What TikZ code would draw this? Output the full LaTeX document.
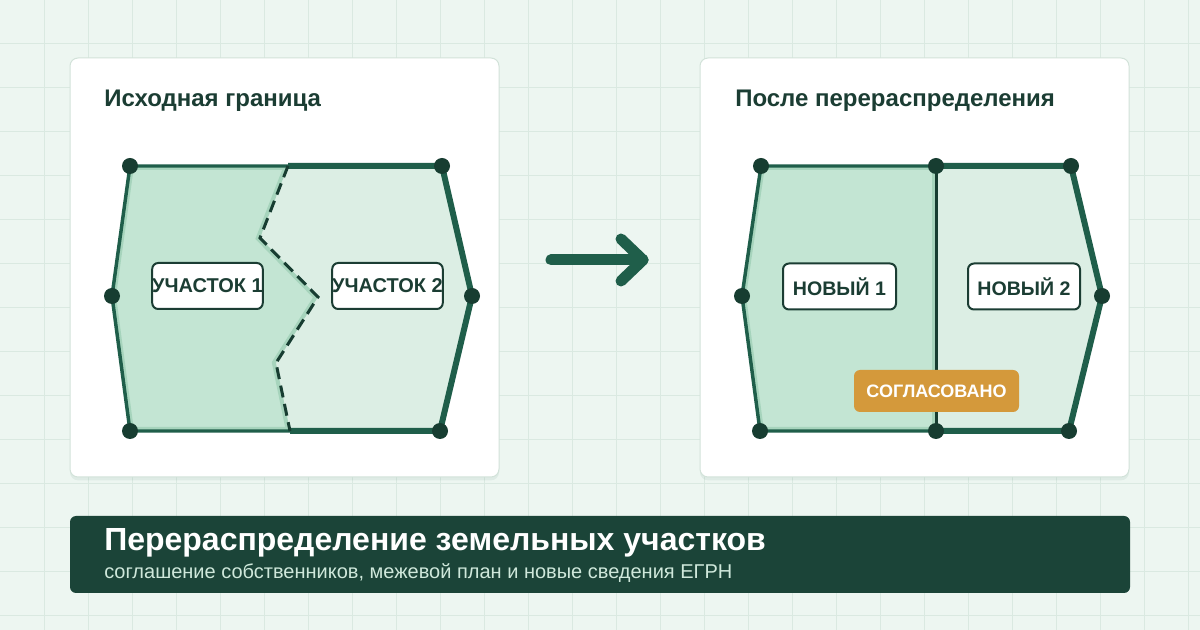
\documentclass[tikz,border=0pt]{standalone}
\usepackage{fontspec}
\setmainfont{Liberation Sans}
\usetikzlibrary{calc}
\definecolor{LandInk}{HTML}{1B3D33}
\definecolor{LandLine}{HTML}{1F5E4A}
\definecolor{LandDot}{HTML}{173D31}
\definecolor{LandPlotA}{HTML}{C3E5D3}
\definecolor{LandPlotB}{HTML}{DCEEE4}
\definecolor{LandHalo}{HTML}{A6D4BC}
\definecolor{LandBg}{HTML}{EDF6F1}
\definecolor{LandGrid}{HTML}{DAE9E1}
\definecolor{LandCardLine}{HTML}{D2E2D9}
\definecolor{LandBanner}{HTML}{1B4438}
\definecolor{LandSub}{HTML}{CFE8DB}
\definecolor{LandGold}{HTML}{D4993B}
\newcommand{\landsize}[1]{\fontsize{#1}{#1}\selectfont}

\begin{document}
\begin{tikzpicture}[
      x=0.75pt,y=-0.75pt,
      gridline/.style={draw=LandGrid,line width=0.75pt},
      card/.style={draw=LandCardLine,line width=0.75pt,fill=white,rounded corners=6pt,
        minimum width=321.75pt,minimum height=314.25pt,inner sep=0pt,
        preaction={fill=LandLine,opacity=0.07,transform canvas={yshift=-2.5pt}}},
      cardtitle/.style={anchor=base west,inner sep=0pt,text=LandInk,
        font=\bfseries\landsize{18}},
      thinedge/.style={draw=LandLine,line width=2.6pt,line join=round},
      thickedge/.style={draw=LandLine,line width=4.5pt,line join=round},
      halo/.style={draw=LandHalo,line width=6pt},
      oldline/.style={draw=LandDot,line width=2.25pt,dash pattern=on 9pt off 5pt},
      newline/.style={draw=LandDot,line width=2.25pt},
      dot/.style={circle,fill=LandDot,inner sep=0pt,minimum size=12pt},
      plotlabel/.style={draw=LandInk,line width=1.5pt,fill=white,rounded corners=4.5pt,
        inner sep=0pt,minimum height=34.5pt,text=LandInk,font=\bfseries\landsize{15}},
      badge/.style={fill=LandGold,rounded corners=4.5pt,inner sep=0pt,
        minimum width=123.75pt,minimum height=31.5pt,text=white,font=\bfseries\landsize{13.5}},
      bigarrow/.style={draw=LandLine,line width=8.25pt,line cap=round,line join=round}
    ]
    \useasboundingbox (0,0) rectangle (1200,630);
    \fill[LandBg] (0,0) rectangle (1200,630);
    \foreach \gx in {44,88,...,1188}
      \draw[gridline] (\gx,0) -- (\gx,630);
    \foreach \gy in {44,88,...,616}
      \draw[gridline] (0,\gy) -- (1200,\gy);

    % cards
    \node[card] (before) at (284.5,267.5) {};
    \node[card] (after) at (914.5,267.5) {};
    \node[cardtitle] (beforetitle) at (104,107) {Исходная граница};
    \node[cardtitle] (aftertitle) at (735,107) {После перераспределения};

    % old boundary
    \coordinate (oTL) at (130,166);
    \coordinate (oTR) at (442,166);
    \coordinate (oR) at (472,296);
    \coordinate (oBR) at (440,431);
    \coordinate (oBL) at (130,431);
    \coordinate (oL) at (112,296);
    \coordinate (oC1) at (288,166);
    \coordinate (oC2) at (260,238);
    \coordinate (oC3) at (318,297);
    \coordinate (oC4) at (276,363);
    \coordinate (oC5) at (290,431);
    \fill[LandPlotB] (oC1) -- (oTR) -- (oR) -- (oBR) -- (oC5) -- (oC4) -- (oC3) -- (oC2) -- cycle;
    \begin{scope}
      \clip (oTL) -- (oC1) -- (oC2) -- (oC3) -- (oC4) -- (oC5) -- (oBL) -- (oL) -- cycle;
      \path[fill=LandPlotA,halo] (oTL) -- (oC1) -- (oC2) -- (oC3) -- (oC4) -- (oC5) -- (oBL) -- (oL) -- cycle;
    \end{scope}
    \draw[thinedge] (oC1) -- (oTL) -- (oL) -- (oBL) -- (oC5);
    \draw[thickedge] (oC1) -- (oTR) -- (oR) -- (oBR) -- (oC5);
    \draw[oldline] (oC1) -- (oC2) -- (oC3) -- (oC4) -- (oC5);
    \foreach \p in {oTL,oTR,oR,oBR,oBL,oL}
      \node[dot] (d-\p) at (\p) {};
    \node[plotlabel,minimum width=81.75pt] (plot1) at (207.5,286) {УЧАСТОК 1};
    \node[plotlabel,minimum width=81.75pt] (plot2) at (387.5,286) {УЧАСТОК 2};

    % arrow
    \coordinate (aS) at (551,260);
    \coordinate (aT) at (643,260);
    \coordinate (aU) at (621,239);
    \coordinate (aD) at (621,281);
    \draw[bigarrow] (aS) -- (aT);
    \draw[bigarrow] (aU) -- (aT) -- (aD);

    % new boundary
    \coordinate (nTL) at (761,166);
    \coordinate (nTM) at (936,166);
    \coordinate (nTR) at (1071,166);
    \coordinate (nR) at (1102,296);
    \coordinate (nBR) at (1069,431);
    \coordinate (nBM) at (936,431);
    \coordinate (nBL) at (760,431);
    \coordinate (nL) at (742,296);
    \fill[LandPlotB] (nTM) -- (nTR) -- (nR) -- (nBR) -- (nBM) -- cycle;
    \begin{scope}
      \clip (nTL) -- (nTM) -- (nBM) -- (nBL) -- (nL) -- cycle;
      \path[fill=LandPlotA,halo] (nTL) -- (nTM) -- (nBM) -- (nBL) -- (nL) -- cycle;
    \end{scope}
    \draw[thinedge] (nTM) -- (nTL) -- (nL) -- (nBL) -- (nBM);
    \draw[thickedge] (nTM) -- (nTR) -- (nR) -- (nBR) -- (nBM);
    \draw[newline] (nTM) -- (nBM);
    \foreach \p in {nTL,nTM,nTR,nR,nBR,nBM,nBL,nL}
      \node[dot] (d-\p) at (\p) {};
    \node[plotlabel,minimum width=84.75pt,font=\bfseries\landsize{14.7}] (new1) at (839.5,286.5) {НОВЫЙ 1};
    \node[plotlabel,minimum width=84pt,font=\bfseries\landsize{14.7}] (new2) at (1024,286.5) {НОВЫЙ 2};
    \node[badge] (agreed) at (936.5,391) {СОГЛАСОВАНО};

    % banner
    \node[fill=LandBanner,rounded corners=4.5pt,minimum width=795pt,minimum height=57.75pt,
      inner sep=0pt] (banner) at (600,554.5) {};
    \node[anchor=base west,inner sep=0pt,text=white,font=\bfseries\landsize{24}]
      (bannertitle) at (104,551) {Перераспределение земельных участков};
    \node[anchor=base west,inner sep=0pt,text=LandSub,font=\landsize{15}]
      (bannersub) at (104,579) {соглашение собственников, межевой план и новые сведения ЕГРН};
  \end{tikzpicture}
\end{document}
